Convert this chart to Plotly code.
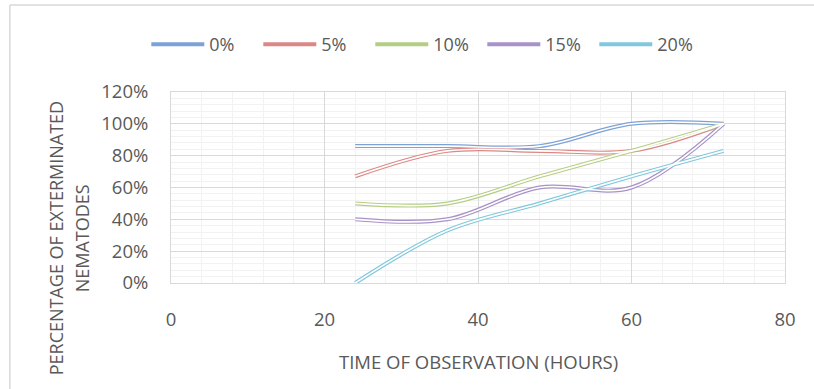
import plotly.graph_objects as go

hours = [24, 36, 48, 60, 72]
series_names = ["0%", "5%", "10%", "15%", "20%"]
s0 = [0.86, 0.86, 0.86, 1.00, 1.00]
s5 = [0.67, 0.83, 0.83, 0.83, 1.00]
s10 = [0.50, 0.50, 0.67, 0.83, 1.00]
s15 = [0.40, 0.40, 0.60, 0.60, 1.00]
s20 = [0.00, 0.33, 0.50, 0.67, 0.83]
series_values = [s0, s5, s10, s15, s20]
colors = ["#7da2d6", "#da8785", "#b5ce85", "#a892c6", "#80c8dc"]

FONT = "Open Sans"
TXT = "#595959"

fig = go.Figure()
for name, vals, col in zip(series_names, series_values, colors):
    fig.add_trace(go.Scatter(x=hours, y=vals, name=name, mode="lines",
                             line=dict(color=col, width=4, shape="spline", smoothing=1),
                             hoverinfo="skip"))
for name, vals, col in zip(series_names, series_values, colors):
    fig.add_trace(go.Scatter(x=hours, y=vals, mode="lines", showlegend=False,
                             line=dict(color="white", width=1.6, shape="spline", smoothing=1),
                             hoverinfo="skip"))

L, R, T, B = 170.7, 785.0, 92.3, 283.0
W, H = 814, 389
pw, ph = R - L, B - T

def px_x(p):
    return (p - L) / pw

def px_y(p):
    return (B - p) / ph

fig.update_layout(
    width=W, height=H,
    margin=dict(l=L, r=W - R, t=T, b=H - B, pad=0),
    paper_bgcolor="white", plot_bgcolor="white",
    font=dict(family=FONT, color=TXT, size=18),
    showlegend=True,
    legend=dict(orientation="h", x=px_x(146), xanchor="left", y=px_y(45), yanchor="middle",
                font=dict(size=18, color=TXT, family=FONT), itemwidth=53,
                entrywidth=44, entrywidthmode="pixels"),
    xaxis=dict(range=[0, 80], dtick=20, tick0=0, showgrid=True, gridcolor="#d9d9d9", gridwidth=1,
               showline=True, linecolor="#d9d9d9", mirror=True, zeroline=False,
               tickfont=dict(size=18.5, color=TXT, family=FONT), ticks="", ticklabelstandoff=20,
               minor=dict(dtick=4, showgrid=True, gridcolor="#f2f2f2", gridwidth=1)),
    yaxis=dict(range=[0, 1.2], dtick=0.2, tick0=0, tickformat=".0%", showgrid=True,
               gridcolor="#d9d9d9", gridwidth=1, showline=True, linecolor="#d9d9d9",
               mirror=True, zeroline=False,
               tickfont=dict(size=18.5, color=TXT, family=FONT), ticks="", ticklabelstandoff=18,
               minor=dict(dtick=0.04, showgrid=True, gridcolor="#f2f2f2", gridwidth=1)),
)

fig.add_annotation(text="TIME OF OBSERVATION (HOURS)", xref="paper", yref="paper",
                   x=px_x(478), y=px_y(361), xanchor="center", yanchor="middle",
                   showarrow=False, font=dict(size=18.5, color=TXT, family=FONT))
fig.add_annotation(text="PERCENTAGE OF EXTERMINATED", xref="paper", yref="paper",
                   x=px_x(56), y=px_y(238), xanchor="center", yanchor="middle", textangle=-90,
                   showarrow=False, font=dict(size=18, color=TXT, family=FONT))
fig.add_annotation(text="NEMATODES", xref="paper", yref="paper",
                   x=px_x(82), y=px_y(238), xanchor="center", yanchor="middle", textangle=-90,
                   showarrow=False, font=dict(size=18, color=TXT, family=FONT))

fig.add_shape(type="line", xref="paper", yref="paper",
              x0=px_x(9.5), x1=px_x(9.5), y0=px_y(395), y1=px_y(5.5),
              line=dict(color="#d9d9d9", width=1.5), layer="above")
fig.add_shape(type="line", xref="paper", yref="paper",
              x0=px_x(9.5), x1=px_x(820), y0=px_y(5.5), y1=px_y(5.5),
              line=dict(color="#d9d9d9", width=1.5), layer="above")

fig.write_html("out.html", config={"displayModeBar": False},
               post_script="document.body.style.margin='0';document.body.style.overflow='hidden';")
